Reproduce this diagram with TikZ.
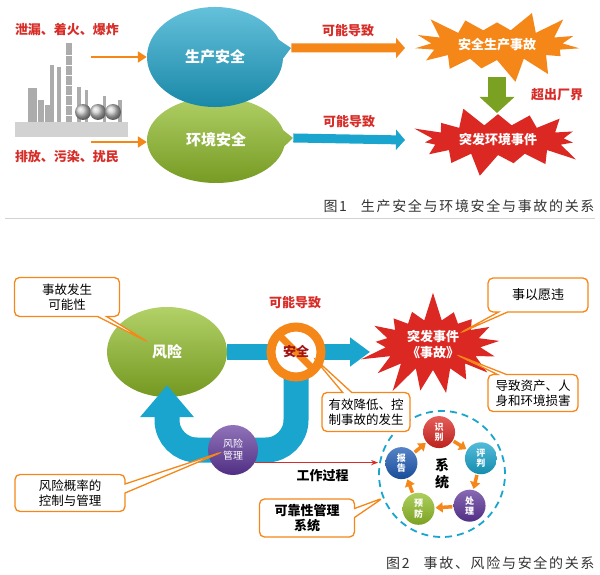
\documentclass[tikz,border=0pt]{standalone}
\usepackage{fontspec}
\setmainfont{Noto Sans CJK SC}
\newfontfamily\capfont{Noto Sans CJK SC}[LetterSpace=12]
\usetikzlibrary{arrows.meta,shapes.geometric,shapes.symbols,shapes.callouts,positioning}
\definecolor{warn}{RGB}{215,45,40}
\definecolor{sky}{RGB}{25,165,205}
\definecolor{leaf}{RGB}{145,190,40}
\definecolor{flame}{RGB}{245,135,25}
\definecolor{alarm}{RGB}{220,40,35}
\definecolor{plum}{RGB}{95,55,155}
\definecolor{navy}{RGB}{30,90,180}
\definecolor{inkred}{RGB}{160,20,20}
\tikzset{
  lbl/.style={font=\bfseries\fontsize{13}{15}\selectfont, text=warn},
  bubble/.style={ellipse callout, text=white, callout pointer arc=22, font=\bfseries\fontsize{15}{18}\selectfont},
  burst/.style={starburst, starburst points=15, starburst point height=24pt, text=white, align=center, inner sep=1pt, font=\bfseries\fontsize{13}{16}\selectfont},
  feed/.style={draw=flame, line width=2pt, -{Triangle[length=9pt,width=11pt]}},
  block/.style={line width=9pt, -{Triangle[length=9pt,width=20pt]}},
  pipe/.style={draw=sky, line width=16pt},
  note/.style={rectangle callout, draw=flame, line width=1.3pt, fill=white, rounded corners=5pt, align=center, inner sep=2pt, callout pointer width=9pt, font=\fontsize{12.5}{15}\selectfont},
  orb/.style={circle, minimum size=32pt, inner sep=0pt, text=white, align=center, font=\bfseries\fontsize{9}{10.5}\selectfont},
  cyc/.style={draw=flame, line width=3.5pt, shorten <=1pt, shorten >=1pt, -{Triangle[length=7pt,width=10pt]}},
  figcap/.style={font=\capfont\fontsize{14}{16}\selectfont, text=black!80}
}
\begin{document}
\begin{tikzpicture}[x=1pt,y=-1pt]
\useasboundingbox (0,0) rectangle (600,575);
%% figure 1
% plant
\fill[gray!35] (15,122) rectangle (128,137);
\foreach \x/\top/\w in {66/43/6, 50/65/4, 57/67/4, 77/87/4, 85/90/3, 28/88/9, 38/100/6, 103/96/3, 45/105/7, 118/100/4}
  \fill[gray!65] (\x,\top) rectangle (\x+\w,122);
\foreach \y in {55,65,...,115} \draw[white, thin] (66,\y) -- (72,\y);
\foreach \x in {83,98,113} \shade[ball color=gray!40] (\x,112) circle (8pt);
\node[lbl] (leak) at (67,30) {泄漏、着火、爆炸};
\node[lbl] (dump) at (67,157) {排放、污染、扰民};
% two kinds of safety
\coordinate (tipEnv) at (293,138);
\coordinate (tipProd) at (291,48);
\node[bubble, top color=leaf!70!white, bottom color=leaf!80!black, minimum width=138pt, minimum height=86pt, callout absolute pointer={(tipEnv)}] (env) at (216,140) {环境安全};
\node[bubble, top color=sky!65!white, bottom color=sky!80!black, minimum width=136pt, minimum height=100pt, callout absolute pointer={(tipProd)}] (prod) at (215,57) {生产安全};
\coordinate (srcA) at (91,57);
\coordinate (srcB) at (91,142);
\draw[feed] (srcA) -- (srcA -| prod.west);
\draw[feed] (srcB) -- (srcB -| env.west);
% accidents
\node[burst, fill=flame, minimum width=180pt, minimum height=78pt, random starburst=3] (acc1) at (497,45) {安全生产事故};
\node[burst, fill=alarm, minimum width=180pt, minimum height=78pt, random starburst=9] (env1) at (498,140) {突发环境事件};
\coordinate (tipA) at (405,48);
\coordinate (tipB) at (405,140);
\draw[block, draw=flame] (prod.pointer) -- (tipA) node[midway, above=3pt, lbl] (mayA) {可能导致};
\draw[block, draw=sky] (env.pointer) -- (tipB) node[midway, above=3pt, lbl] (mayB) {可能导致};
\coordinate (dropTop) at (497,77);
\coordinate (dropBot) at (497,113);
\draw[draw=leaf!85!black, line width=18pt, -{Triangle[length=16pt,width=34pt]}] (dropTop) -- (dropBot);
\node[lbl] (over) at (557,95) {超出厂界};
\node[figcap, anchor=east] (cap1) at (598,206) {图1\quad 生产安全与环境安全与事故的关系};
\draw[gray!35, line width=1pt] (5,218) -- (595,218);
%% figure 2
\node[ellipse, minimum width=120pt, minimum height=90pt, top color=leaf!70!white, bottom color=leaf!80!black, text=white, font=\bfseries\fontsize{15}{18}\selectfont] (risk) at (167,352) {风险};
\node[burst, fill=alarm, starburst points=17, starburst point height=30pt, minimum width=155pt, minimum height=110pt, random starburst=7] (event) at (433,345) {突发事件\\《事故》};
\coordinate (hit) at (370,352);
\draw[pipe, -{Triangle[length=20pt,width=28pt]}] (risk.east) -- (hit);
\coordinate (drop) at (296,352);
\coordinate (hub) at (233,450);
\draw[pipe, line width=25pt, rounded corners=30pt, shorten >=-12pt, -{Triangle[length=32pt,width=52pt]}] (drop) |- (hub) -| (risk.south);
% safety ring
\node[circle, draw=flame, line width=9pt, fill=white, minimum size=50pt] (safe) at (drop) {};
\draw[flame, line width=7pt, shorten <=3pt, shorten >=3pt] (safe.135) -- (safe.-45);
\node[font=\bfseries\fontsize{13}{15}\selectfont, text=inkred] (safet) at (safe) {安全};
\node[lbl] (may) at (295,303) {可能导致};
% management
\node[orb, top color=plum!70!white, bottom color=plum!85!black, minimum size=50pt, font=\fontsize{10}{12}\selectfont] (mgmt) at (hub) {风险\\管理};
\node[circle, draw=sky, line width=1.8pt, dash pattern=on 7pt off 5pt, minimum size=126pt, align=center, font=\bfseries\fontsize{14}{17}\selectfont] (sys) at (442,474) {系\\统};
\draw[draw=warn, line width=1pt, -{Stealth[length=7pt]}] (mgmt.-30) -- (mgmt.-30 -| sys.west) node[pos=0.55, below=3pt, font=\bfseries\fontsize{13}{15}\selectfont] (work) {工作过程};
\foreach \a/\txt/\col/\n in {94/{识\\别}/alarm/spot, 22/{评\\判}/sky/judge, -49/{处\\理}/plum/treat, -124/{预\\防}/leaf/guard, 165/{报\\告}/navy/report}
  \node[orb, top color=\col!75!white, bottom color=\col!85!black] (\n) at ([shift={(\a:42pt)}]sys.center) {\txt};
\foreach \u/\v in {report/spot, spot/judge, judge/treat, treat/guard, guard/report}
  \draw[cyc] (\u) -- (\v);
% callouts
\coordinate (riskpt) at (148,342);
\coordinate (mgmtpt) at (222,452);
\coordinate (syspt) at (383,498);
\coordinate (eventpt) at (460,333);
\coordinate (losspt) at (457,355);
\coordinate (safept) at (313,357);
\node[note, minimum width=105pt, minimum height=39pt, callout absolute pointer={(riskpt)}] (chance) at (67,297) {事故发生\\可能性};
\node[note, minimum width=110pt, minimum height=37pt, callout absolute pointer={(mgmtpt)}] (ctrl) at (70,493) {风险概率的\\控制与管理};
\node[note, minimum width=95pt, minimum height=38pt, font=\bfseries\fontsize{13}{15}\selectfont, callout absolute pointer={(syspt)}] (rely) at (307,518) {可靠性管理\\系统};
\node[note, minimum width=100pt, minimum height=34pt, font=\fontsize{13}{15}\selectfont, callout absolute pointer={(eventpt)}] (wish) at (538,295) {事以愿违};
\node[note, minimum width=90pt, minimum height=37pt, callout absolute pointer={(losspt)}] (loss) at (533,393) {导致资产、人\\身和环境损害};
\node[note, minimum width=88pt, minimum height=39pt, callout absolute pointer={(safept)}] (cut) at (366,412) {有效降低、控\\制事故的发生};
\node[figcap, anchor=east] (cap2) at (598,563) {图2\quad 事故、风险与安全的关系};
\end{tikzpicture}
\end{document}
